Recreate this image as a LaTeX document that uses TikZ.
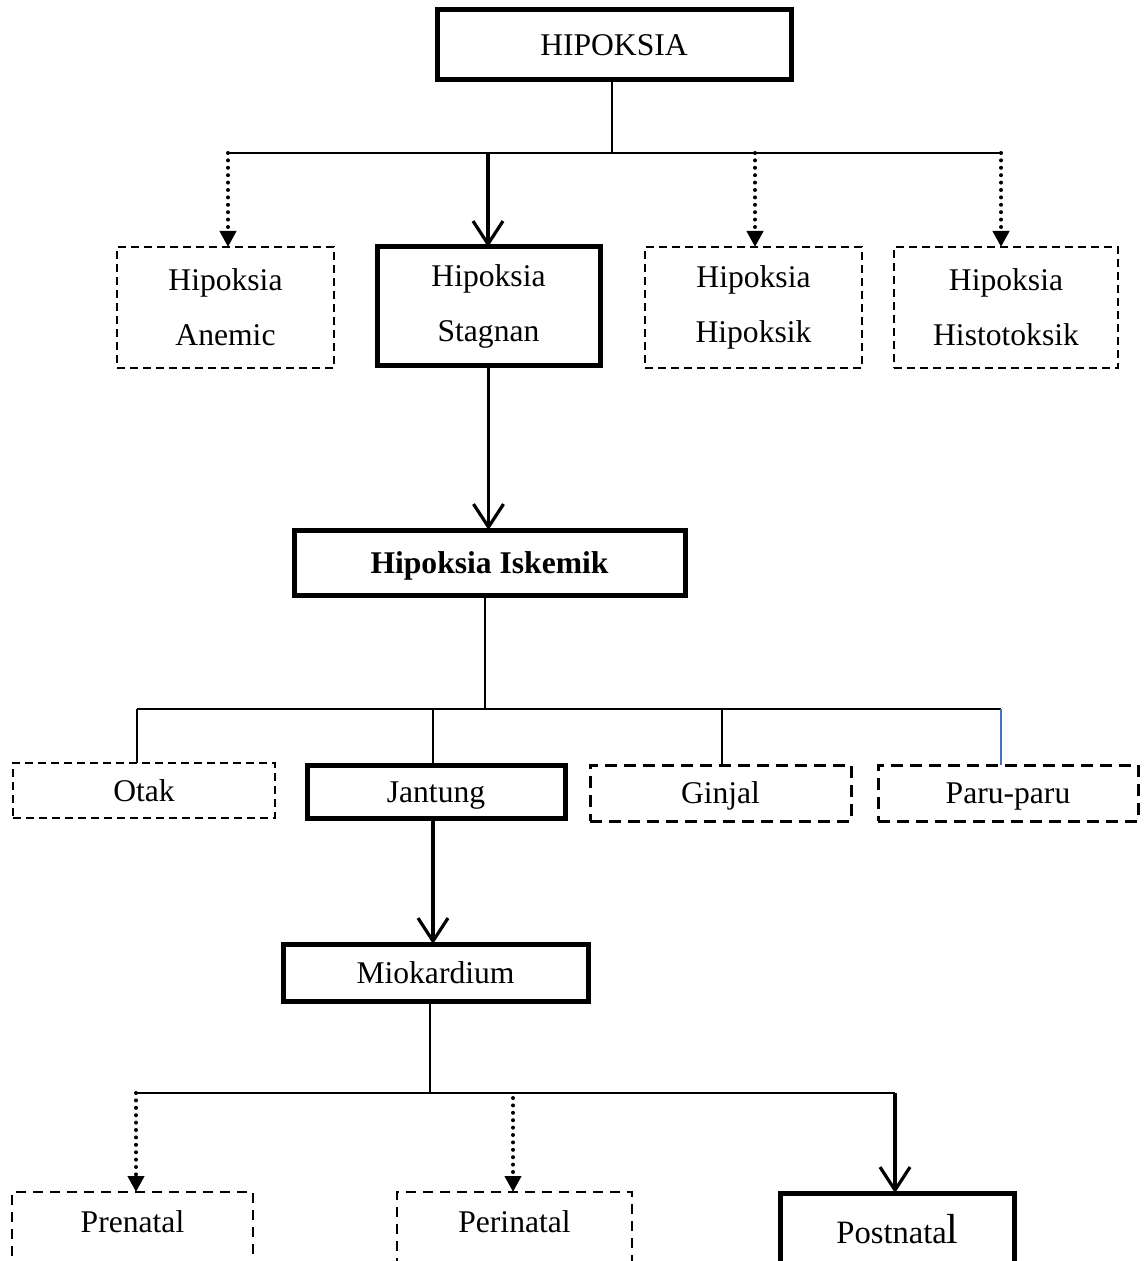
\documentclass[tikz,border=0pt]{standalone}
\usepackage{fontspec}
\setmainfont{Liberation Serif}
\usetikzlibrary{arrows.meta}
\definecolor{linkblue}{RGB}{68,114,196}
\begin{document}
\begin{tikzpicture}[x=0.5pt,y=-0.5pt,
  every node/.style={font=\fontsize{15.8}{27.5}\selectfont, inner sep=0pt, outer sep=0pt},
  capc/.style={text height=10.5pt, text depth=0pt},
  thickbox/.style={draw, line width=2.5pt},
  dashbox/.style={draw, line width=0.9pt, dash pattern=on 4pt off 2.5pt},
  dashboxb/.style={draw, line width=1.5pt, dash pattern=on 6pt off 3.5pt},
  dashboxc/.style={draw, line width=0.9pt, dash pattern=on 5pt off 3.5pt},
  conn/.style={line width=1pt},
  dotarrow/.style={line width=2pt, line cap=round, dash pattern=on 0pt off 3.7pt,
    -{Triangle[width=8pt,length=8pt]}},
  veearrow/.style={line width=1.6pt, -{Straight Barb[length=11.5pt,width=15pt,line width=1.6pt]}}]
\useasboundingbox (0,0) rectangle (1146,1261);

% level 1
\node[thickbox, capc, minimum width=177pt, minimum height=35pt] (top) at (614,45) {HIPOKSIA};

% level 2
\node[dashbox, align=center, minimum width=108.5pt, minimum height=60.5pt] (anemic) at (225.5,307.5) {Hipoksia\\Anemic};
\node[thickbox, align=center, minimum width=111.5pt, minimum height=59.5pt] (stagnan) at (488.5,306.5) {Hipoksia\\Stagnan};
\node[dashbox, align=center, minimum width=108.5pt, minimum height=60.5pt] (hipoksik) at (753.5,307.5) {Hipoksia\\Hipoksik};
\node[dashbox, align=center, minimum width=112pt, minimum height=60.5pt] (histo) at (1006,307.5) {Hipoksia\\Histotoksik};

% level 3
\node[thickbox, capc, minimum width=195.5pt, minimum height=32.5pt] (iskemik) at (489.5,562.5) {\textbf{Hipoksia Iskemik}};

% level 4
\node[dashbox, capc, minimum width=131pt, minimum height=27.5pt] (otak) at (144,790.5) {Otak};
\node[thickbox, capc, minimum width=129pt, minimum height=26.5pt] (jantung) at (436,791.5) {Jantung};
\node[dashboxb, capc, minimum width=130.5pt, minimum height=28pt] (ginjal) at (720.5,793) {Ginjal};
\node[dashboxb, capc, minimum width=130pt, minimum height=28pt] (paru) at (1008,793) {Paru-paru};

% level 5
\node[thickbox, capc, minimum width=152.5pt, minimum height=28.5pt] (mio) at (435.5,972.5) {Miokardium};

% level 6
\node[dashboxc, anchor=north, minimum width=120.5pt, text height=20pt, text depth=35pt] (prenatal) at (132.5,1192) {Prenatal};
\node[dashboxc, anchor=north, minimum width=117.5pt, text height=20pt, text depth=35pt] (perinatal) at (514.5,1192) {Perinatal};
\node[thickbox, anchor=north, minimum width=117pt, text height=25pt, text depth=35pt] (postnatal) at (897.5,1193)
  {{\fontsize{16.3}{20}\selectfont Postnata}{\fontsize{21}{24}\selectfont l}};

% junction coordinates
\coordinate (j0) at (612,153);
\coordinate (bL) at (228,153);
\coordinate (bS) at (488,153);
\coordinate (bH) at (755,153);
\coordinate (bR) at (1001,153);

\coordinate (c0) at (485,709);
\coordinate (c1) at (137,709);
\coordinate (c2) at (433,709);
\coordinate (c3) at (722,709);
\coordinate (c4) at (1001,709);

\coordinate (d0) at (430,1093);
\coordinate (d1) at (136,1093);
\coordinate (d2) at (513,1098);
\coordinate (d3) at (895,1093);

% top connectors
\draw[conn] (top.south -| j0) -- (j0);
\draw[conn] (bL) -- (bR);
\draw[dotarrow] (bL) -- (bL |- anemic.north);
\draw[veearrow] (bS) -- (bS |- stagnan.north);
\draw[dotarrow] (bH) -- (bH |- hipoksik.north);
\draw[dotarrow] (bR) -- (bR |- histo.north);

\draw[veearrow] (stagnan.south) -- (stagnan.south |- iskemik.north);

% organ connectors
\draw[conn] (iskemik.south -| c0) -- (c0);
\draw[conn] (c1) -- (c4);
\draw[conn] (c1) -- (c1 |- otak.north);
\draw[conn] (c2) -- (c2 |- jantung.north);
\draw[conn] (c3) -- (c3 |- ginjal.north);
\draw[conn, linkblue] (c4) -- (c4 |- paru.north);

\draw[veearrow] (jantung.south -| c2) -- (mio.north -| c2);

% bottom connectors
\draw[conn] (mio.south -| d0) -- (d0);
\draw[conn] (d1) -- (d3);
\draw[dotarrow] (d1) -- (d1 |- prenatal.north);
\draw[dotarrow] (d2) -- (d2 |- perinatal.north);
\draw[veearrow] (d3) -- (d3 |- postnatal.north);
\end{tikzpicture}
\end{document}
